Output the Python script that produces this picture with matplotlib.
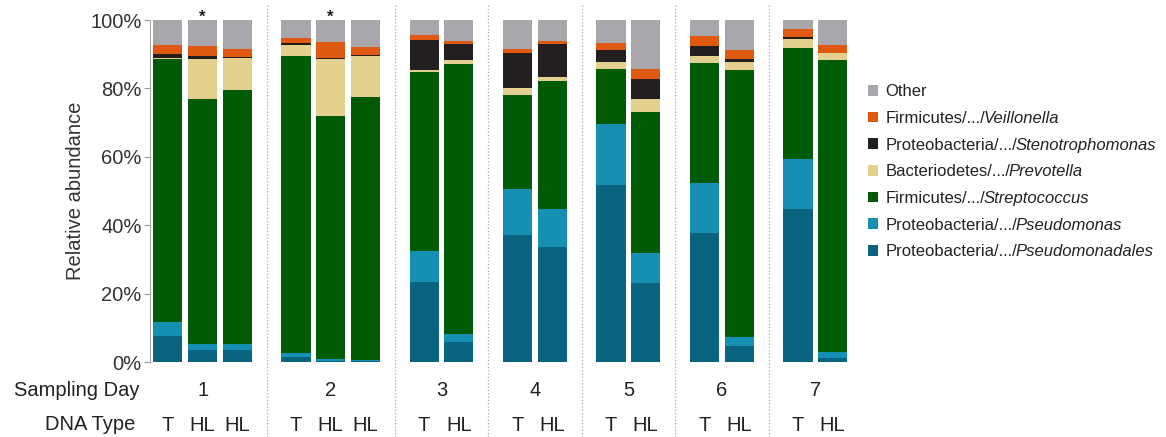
import matplotlib
matplotlib.use("Agg")
import matplotlib.pyplot as plt

# Sampling days and the DNA type of each bar in that day
days = ["1", "2", "3", "4", "5", "6", "7"]
dna_types = [["T", "HL", "HL"], ["T", "HL", "HL"], ["T", "HL"], ["T", "HL"],
             ["T", "HL"], ["T", "HL"], ["T", "HL"]]
# Bars marked with an asterisk
starred = [False, True, False, False, True, False, False, False,
           False, False, False, False, False, False, False, False]

# Relative abundance (%) per taxon, one value per bar (bottom to top of stack)
pseudomonadales = [7.6, 3.4, 3.5, 1.4, 0.4, 0.3, 23.4, 5.8, 37.0, 33.7, 51.8, 23.2, 37.6, 4.7, 44.6, 1.3]
pseudomonas = [4.1, 1.8, 1.7, 1.3, 0.6, 0.3, 9.1, 2.5, 13.5, 10.9, 17.7, 8.8, 14.6, 2.6, 14.9, 1.5]
streptococcus = [76.8, 71.8, 74.2, 86.9, 70.9, 76.9, 52.2, 78.9, 27.7, 37.6, 16.2, 41.1, 35.2, 78.1, 32.2, 85.4]
prevotella = [0.5, 11.7, 9.6, 3.2, 16.8, 12.1, 0.8, 1.0, 1.8, 1.0, 1.9, 3.9, 2.1, 2.3, 2.7, 2.1]
stenotrophomonas = [1.0, 0.8, 0.3, 0.5, 0.2, 0.1, 8.8, 4.9, 10.4, 9.7, 3.7, 5.7, 2.9, 1.0, 0.5, 0.2]
veillonella = [2.6, 2.9, 2.1, 1.5, 4.6, 2.4, 1.2, 0.8, 1.2, 1.0, 2.1, 2.9, 2.9, 2.5, 2.4, 2.1]
other = [7.4, 7.6, 8.6, 5.2, 6.5, 7.9, 4.5, 6.1, 8.4, 6.1, 6.6, 14.4, 4.7, 8.8, 2.7, 7.4]

series = [pseudomonadales, pseudomonas, streptococcus, prevotella,
          stenotrophomonas, veillonella, other]
# legend label = plain part + italic genus part
phyla = ["Proteobacteria/.../", "Proteobacteria/.../", "Firmicutes/.../",
         "Bacteriodetes/.../", "Proteobacteria/.../", "Firmicutes/.../", "Other"]
genera = ["Pseudomonadales", "Pseudomonas", "Streptococcus", "Prevotella",
          "Stenotrophomonas", "Veillonella", ""]
colors = ["#0a6480", "#1590b2", "#015a06", "#e3d08f", "#231f20", "#df5a10", "#a8a6ab"]

plt.rcParams["font.family"] = "Liberation Sans"

# Bar positions: step 1 inside a day, wider gap between days
GAP = 1.7
WIDTH = 0.84
positions = []
group_centers = []
separators = []
x = 0.0
for i, types in enumerate(dna_types):
    start = x
    for _ in types:
        positions.append(x)
        x += 1
    group_centers.append((start + x - 1) / 2)
    x += GAP - 1
    if i < len(dna_types) - 1:
        separators.append(x - GAP / 2)

fig = plt.figure(figsize=(11.66, 4.37), dpi=100)
ax = fig.add_axes([0.1286, 0.1716, 0.5994, 0.7826])

bottom = [0.0] * len(positions)
for vals, lab, col in zip(series, phyla, colors):
    ax.bar(positions, vals, width=WIDTH, bottom=bottom, color=col, label=lab)
    bottom = [b + v for b, v in zip(bottom, vals)]

# Asterisks above selected bars
for p, s in zip(positions, starred):
    if s:
        ax.text(p, 99.6, "*", ha="center", va="baseline", fontsize=12,
                fontweight="bold", color="#222222", clip_on=False)

# Dotted separators between days, running through the label rows
for s in separators:
    ax.plot([s, s], [-0.22, 1.045], transform=ax.get_xaxis_transform(),
            color="#aaaaaa", linestyle=":", linewidth=0.9, clip_on=False)

ax.set_xlim(positions[0] - 0.52, positions[-1] + 0.47)
ax.set_ylim(0, 100)
ax.set_yticks([0, 20, 40, 60, 80, 100])
ax.set_yticklabels(["0%", "20%", "40%", "60%", "80%", "100%"])
ax.tick_params(axis="y", length=4, color="#999999", labelsize=14.5, labelcolor="#333333", pad=2)
ax.set_xticks([])
ax.set_ylabel("Relative abundance", fontsize=14.5, color="#333333", labelpad=4)
for side in ["top", "right", "bottom"]:
    ax.spines[side].set_visible(False)
ax.spines["left"].set_color("#aaaaaa")
ax.spines["left"].set_linewidth(0.8)

# Row labels under the bars
xt = ax.get_xaxis_transform()
for c, d in zip(group_centers, days):
    ax.text(c, -0.082, d, transform=xt, ha="center", va="center", fontsize=14.5, color="#222222")
flat_types = [t for types in dna_types for t in types]
for p, t in zip(positions, flat_types):
    ax.text(p, -0.185, t, transform=xt, ha="center", va="center", fontsize=14.5, color="#222222")
fig.text(0.12, 1 - 390 / 437, "Sampling Day", ha="right", va="center", fontsize=14.5, color="#222222")
fig.text(0.116, 1 - 425 / 437, "DNA Type", ha="right", va="center", fontsize=14.5, color="#222222")

# Legend, top entry first; italic genus names appended after each label
handles, labs = ax.get_legend_handles_labels()
leg = fig.legend(handles[::-1], labs[::-1], loc="upper left", bbox_to_anchor=(0.7385, 0.8226),
                 frameon=False, fontsize=12, handlelength=0.62, handleheight=0.62,
                 handletextpad=0.45, labelspacing=0.7, borderaxespad=0)
for txt, g in zip(leg.get_texts(), genera[::-1]):
    txt.set_color("#222222")
    if g:
        # zorder above the legend so the legend is laid out first
        fig.add_artist(plt.Annotation(g, xy=(1, 0), xycoords=txt, xytext=(-1.5, 0),
                                      textcoords="offset points", fontsize=12,
                                      style="italic", color="#222222",
                                      ha="left", va="bottom", zorder=10))

fig.savefig("out.png", dpi=100)
